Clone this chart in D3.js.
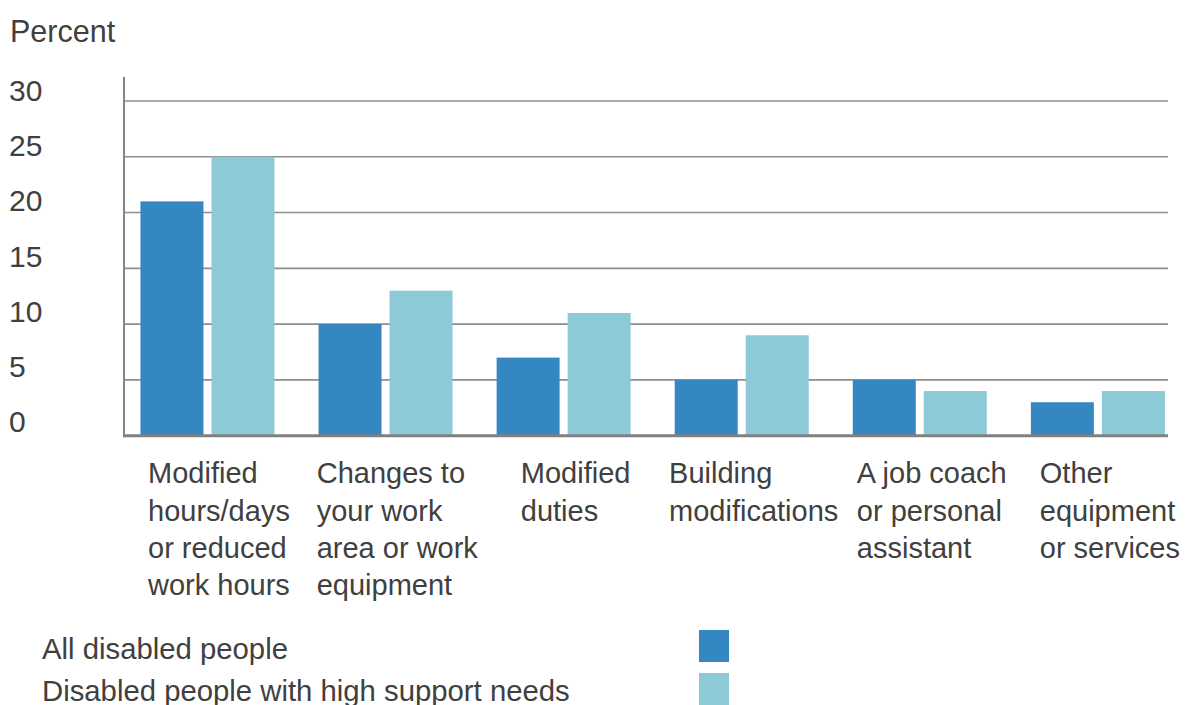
<!DOCTYPE html>
<html>
<head>
<meta charset="utf-8">
<script src="https://cdn.jsdelivr.net/npm/d3@7"></script>
<style>
  html, body { margin: 0; padding: 0; background: #ffffff; }
  svg { display: block; font-family: "Liberation Sans", Arial, sans-serif; }
  text { fill: #404040; }
</style>
</head>
<body>
<svg id="chart" width="1187" height="705"></svg>
<script>
// Workplace adjustments, percent of respondents
const categories = [
  ["Modified", "hours/days", "or reduced", "work hours"],
  ["Changes to", "your work", "area or work", "equipment"],
  ["Modified", "duties"],
  ["Building", "modifications"],
  ["A job coach", "or personal", "assistant"],
  ["Other", "equipment", "or services"]
];
const seriesNames = ["All disabled people", "Disabled people with high support needs"];
const allDisabled = [21, 10, 7, 5, 5, 3];
const highSupport = [25, 13, 11, 9, 4, 4];
const yTicks = [0, 5, 10, 15, 20, 25, 30];
const colors = ["#3587c2", "#8bcad6"];

const svg = d3.select("#chart");

const plotLeft = 124, plotRight = 1168;
const plotTop = 101, plotBottom = 435.7;

const y = d3.scaleLinear().domain([0, 30]).range([plotBottom, plotTop]);
// tick label baselines sit just on / slightly above their gridlines
const yLabel = d3.scaleLinear().domain([0, 30]).range([432, 101]);

const keys = categories.map((c, i) => i);
const x0 = d3.scaleBand()
  .domain(keys)
  .range([plotLeft, plotRight])
  .paddingInner(0.2476)
  .paddingOuter(0.055)
  .align(0.84);
const x1 = d3.scaleBand()
  .domain([0, 1])
  .range([0, x0.bandwidth()])
  .paddingInner(0.113);

// gridlines
svg.append("g")
  .selectAll("line")
  .data(yTicks.filter(t => t > 0))
  .join("line")
  .attr("x1", plotLeft).attr("x2", plotRight)
  .attr("y1", d => y(d)).attr("y2", d => y(d))
  .attr("stroke", "#8e8e8e")
  .attr("stroke-width", 1.6);

// y tick labels
svg.append("g")
  .selectAll("text")
  .data(yTicks)
  .join("text")
  .attr("x", 9)
  .attr("y", d => yLabel(d))
  .attr("font-size", 30)
  .text(d => d);

svg.append("text")
  .attr("x", 10).attr("y", 42)
  .attr("font-size", 30.5)
  .text("Percent");

// bars
const rows = keys.map(i => ({ i, values: [allDisabled[i], highSupport[i]] }));
svg.append("g")
  .selectAll("g")
  .data(rows)
  .join("g")
  .attr("transform", d => `translate(${x0(d.i)},0)`)
  .selectAll("rect")
  .data(d => d.values.map((v, s) => ({ v, s })))
  .join("rect")
  .attr("x", d => x1(d.s))
  .attr("width", x1.bandwidth())
  .attr("y", d => y(d.v))
  .attr("height", d => y(0) - y(d.v))
  .attr("fill", d => colors[d.s]);

// axes
svg.append("line")
  .attr("x1", plotLeft).attr("x2", plotLeft)
  .attr("y1", 77).attr("y2", plotBottom + 1.5)
  .attr("stroke", "#858585").attr("stroke-width", 2);
svg.append("line")
  .attr("x1", plotLeft - 1).attr("x2", plotRight)
  .attr("y1", plotBottom).attr("y2", plotBottom)
  .attr("stroke", "#808080").attr("stroke-width", 3);

// category labels: left-aligned blocks centred a little right of each group
const lineGap = 37.3;
const labelGroups = svg.append("g")
  .selectAll("g")
  .data(rows)
  .join("g");
labelGroups.each(function (d) {
  const g = d3.select(this);
  const t = g.append("text").attr("font-size", 29);
  categories[d.i].forEach((line, k) => {
    t.append("tspan").attr("x", 0).attr("y", 483.3 + k * lineGap).text(line);
  });
  const w = t.node().getBBox().width;
  const cx = x0(d.i) + x0.bandwidth() / 2 + 12;
  g.attr("transform", `translate(${cx - w / 2},0)`);
});

// legend
const legend = svg.append("g")
  .selectAll("g")
  .data(seriesNames)
  .join("g");
legend.append("text")
  .attr("x", 42)
  .attr("y", (d, i) => 659 + i * 41.5)
  .attr("font-size", 29.3)
  .text(d => d);
legend.append("rect")
  .attr("x", 699)
  .attr("y", (d, i) => 630 + i * 43)
  .attr("width", 30)
  .attr("height", 32)
  .attr("fill", (d, i) => colors[i]);
</script>
</body>
</html>
